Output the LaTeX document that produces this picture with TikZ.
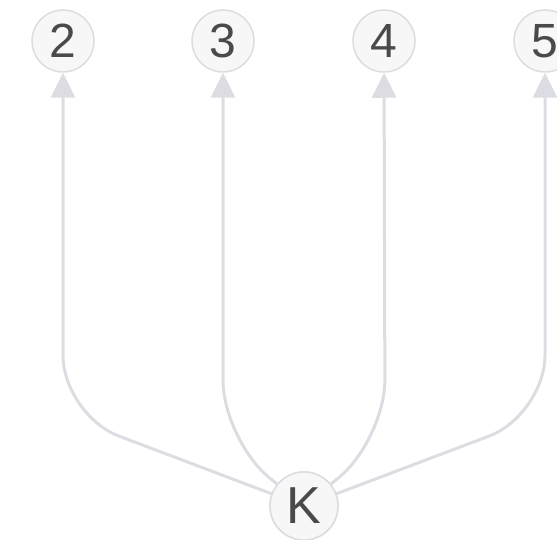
\documentclass[tikz,border=0pt]{standalone}
\usepackage{fontspec}
\setmainfont{Liberation Sans}
\usetikzlibrary{arrows.meta}
\definecolor{edgecol}{HTML}{DCDDE2}
\definecolor{nodefill}{HTML}{F7F7F7}
\definecolor{nodeborder}{HTML}{DCDDE1}
\definecolor{textcol}{HTML}{4A4A4A}
\begin{document}
\begin{tikzpicture}[x=1pt,y=1pt,
  vert/.style={circle, draw=nodeborder, line width=1.5pt, fill=nodefill, text=textcol,
    minimum size=62pt, inner sep=0pt, font=\fontsize{48}{48}\selectfont},
  kvert/.style={vert, minimum size=68pt, font=\fontsize{52}{52}\selectfont},
  edge/.style={draw=edgecol, line width=3pt, rounded corners=60pt,
    -{Triangle[width=24pt,length=25pt]}}]
\useasboundingbox (0,0) rectangle (557,540);
\node[vert] (n2) at (63,499) {2};
\node[vert] (n3) at (223,499) {3};
\node[vert] (n4) at (384,499) {4};
\node[vert] (n5) at (545,499) {5};
\node[kvert] (K) at (304,34) {K};
\coordinate (c2) at (63,125);
\coordinate (c3) at (223,100);
\coordinate (c4) at (385,100);
\coordinate (c5) at (545,125);
\begin{scope}[on background layer/.style={}]
\draw[edge] (K) -- (c2) -- (n2);
\draw[edge] (K) -- (c3) -- (n3);
\draw[edge] (K) -- (c4) -- (n4);
\draw[edge] (K) -- (c5) -- (n5);
\end{scope}
\node[kvert] at (K) {K};
\end{tikzpicture}
\end{document}
